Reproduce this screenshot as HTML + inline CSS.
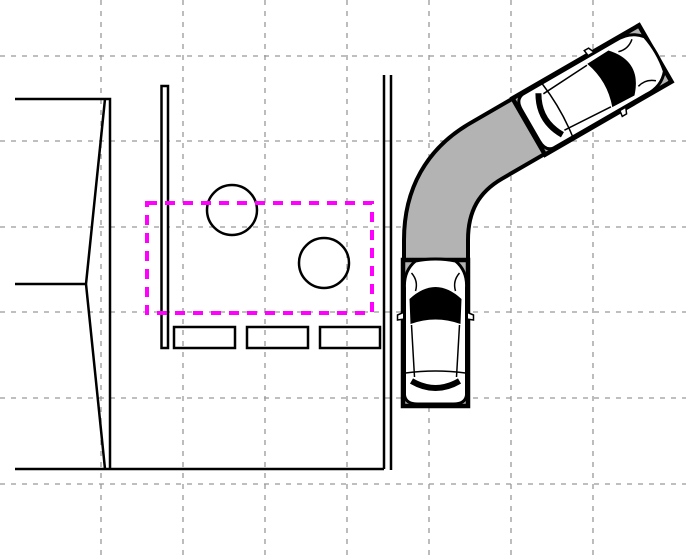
<!DOCTYPE html>
<html><head><meta charset="utf-8"><style>html,body{margin:0;padding:0;background:#fff}svg{display:block}</style></head>
<body>
<svg width="686" height="556" viewBox="0 0 686 556" xmlns="http://www.w3.org/2000/svg">
<defs>
<g id="car">
  <rect x="-32.5" y="-73" width="65" height="146" fill="#b3b3b3" stroke="#000" stroke-width="4.5"/>
  <path d="M-38,-18 l7,-3 l0,7 l-7,1 z M38,-18 l-7,-3 l0,7 l7,1 z" fill="#fff" stroke="#000" stroke-width="1.5"/>
  <path d="M-20,-72 Q0,-76 20,-72 Q32,-62 31,-45 L31,62 Q30,71 18,71 L-18,71 Q-30,71 -31,62 L-31,-45 Q-32,-62 -20,-72 Z" fill="#fff" stroke="#000" stroke-width="3"/>
  <path d="M-25,-9 L-26,-34 Q0,-58 26,-34 L25,-9 Q0,-18 -25,-9 Z" fill="#000"/>
  <path d="M-24,-8 L-21,44 M24,-8 L21,44 M-24,-60 Q-17,-52 -20,-42 M24,-60 Q17,-52 20,-42 M-30,40 Q0,36 30,40" stroke="#000" stroke-width="1.5" fill="none"/>
  <path d="M-24,48 Q0,62 24,48" stroke="#000" stroke-width="6" fill="none"/>
</g>
</defs>
<g stroke="#999" stroke-width="1.3" stroke-dasharray="5,6" fill="none">
  <line x1="101" y1="0" x2="101" y2="556"/><line x1="183" y1="0" x2="183" y2="556"/>
  <line x1="265" y1="0" x2="265" y2="556"/><line x1="347" y1="0" x2="347" y2="556"/>
  <line x1="429" y1="0" x2="429" y2="556"/><line x1="511" y1="0" x2="511" y2="556"/>
  <line x1="593" y1="0" x2="593" y2="556"/>
  <line x1="0" y1="56" x2="686" y2="56"/><line x1="0" y1="141" x2="686" y2="141"/>
  <line x1="0" y1="227" x2="686" y2="227"/><line x1="0" y1="312" x2="686" y2="312"/>
  <line x1="0" y1="398" x2="686" y2="398"/><line x1="0" y1="484" x2="686" y2="484"/>
</g>
<g stroke="#000" stroke-width="2.5" fill="none">
  <polyline points="15,99 110,99 110,469"/>
  <line x1="15" y1="284" x2="86" y2="284"/>
  <line x1="15" y1="469" x2="384" y2="469"/>
  <polyline points="105,99 86,284 105,469"/>
  <rect x="161.5" y="86" width="6.5" height="262" fill="#fff"/>
  <rect x="174" y="327" width="61" height="21"/>
  <rect x="247" y="327" width="61" height="21"/>
  <rect x="320" y="327" width="60" height="21"/>
  <line x1="384" y1="75" x2="384" y2="469"/>
  <line x1="391" y1="75" x2="391" y2="470"/>
  <circle cx="232" cy="210" r="25"/>
  <circle cx="324" cy="263" r="25"/>
</g>
<rect x="147" y="203" width="225" height="110" fill="none" stroke="#f0f" stroke-width="4" stroke-dasharray="10,8"/>
<path d="M436,300 L436,240 Q436,180 486,151 L600,85" fill="none" stroke="#000" stroke-width="68"/>
<path d="M436,300 L436,240 Q436,180 486,151 L600,85" fill="none" stroke="#b3b3b3" stroke-width="60"/>
<use href="#car" transform="translate(435.5,333)"/>
<use href="#car" transform="translate(592,90) rotate(60)"/>
</svg>
</body></html>
